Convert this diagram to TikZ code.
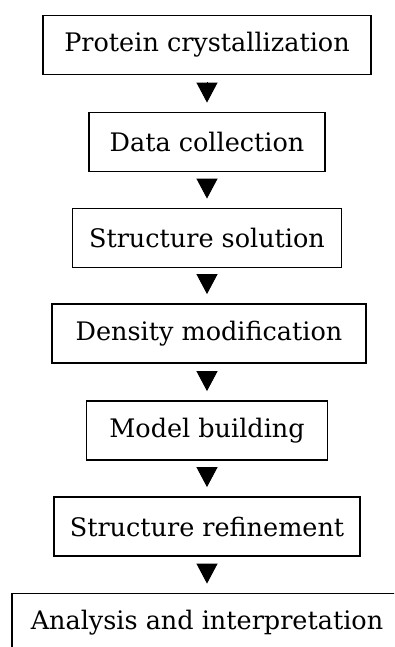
\documentclass[tikz,border=0pt]{standalone}
\usepackage{fontspec}
\setmainfont{DejaVu Serif}
\usetikzlibrary{arrows.meta}
\tikzset{
  stage/.style={draw, line width=1.8pt, minimum height=59pt, inner sep=0pt,
    font=\fontsize{25.5}{28}\selectfont},
  flow/.style={line width=1pt, -{Triangle[width=21pt,length=20pt]},
    shorten <=7pt, shorten >=9pt}
}
\begin{document}
\begin{tikzpicture}[x=1pt,y=-1pt]
\useasboundingbox (0,0) rectangle (394,647);
\clip (0,0) rectangle (394,647);
\node[stage, minimum width=328pt] (s1) at (207,45){Protein crystallization};
\node[stage, minimum width=236pt] (s2) at (207,142){Data collection};
\node[stage, minimum width=269pt] (s3) at (207,238){Structure solution};
\node[stage, minimum width=314pt] (s4) at (209,333.5){Density modification};
\node[stage, minimum width=241pt] (s5) at (207,430.5){Model building};
\node[stage, minimum width=306pt] (s6) at (207,526.5){Structure refinement};
\node[stage, minimum width=390pt] (s7) at (207,623){Analysis and interpretation};
\draw[flow] (s1) -- (s2);
\draw[flow] (s2) -- (s3);
\draw[flow] (s3.south -| s2) -- (s4.north -| s2);
\draw[flow] (s4.south -| s2) -- (s5.north -| s2);
\draw[flow] (s5) -- (s6);
\draw[flow] (s6) -- (s7);
\end{tikzpicture}
\end{document}
